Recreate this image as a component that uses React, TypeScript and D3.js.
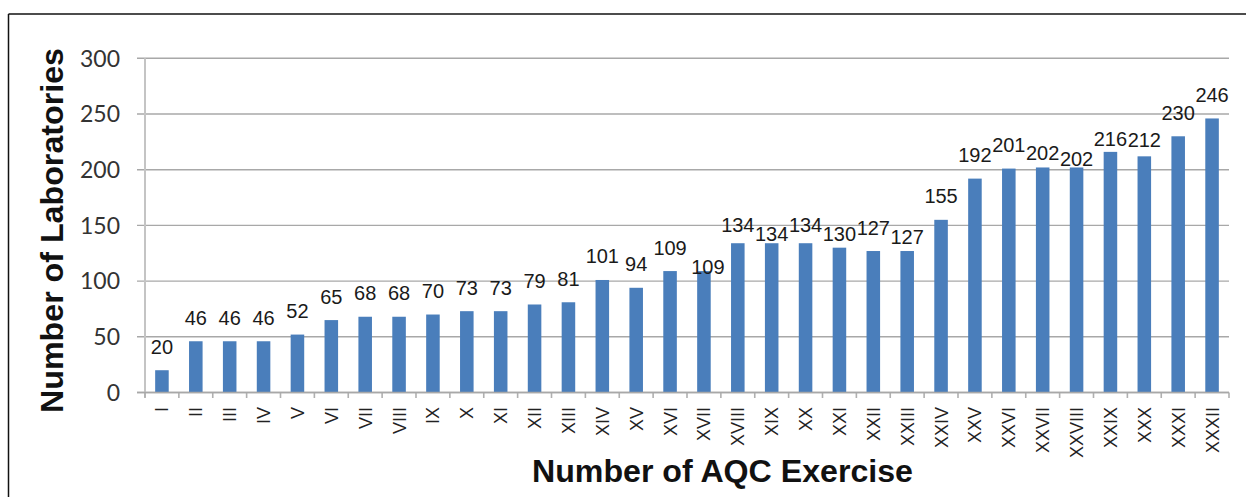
import React from "react";
import * as d3 from "d3";

const categories = ["I","II","III","IV","V","VI","VII","VIII","IX","X","XI","XII","XIII","XIV","XV","XVI","XVII","XVIII","XIX","XX","XXI","XXII","XXIII","XXIV","XXV","XXVI","XXVII","XXVIII","XXIX","XXX","XXXI","XXXII"];
const laboratories = [20,46,46,46,52,65,68,68,70,73,73,79,81,101,94,109,109,134,134,134,130,127,127,155,192,201,202,202,216,212,230,246];
const yTicks = [0,50,100,150,200,250,300];
const xTitle = "Number of AQC Exercise";
const yTitle = "Number of Laboratories";

// label placement nudges (px, downward) mimicking the original's overlap avoidance
const labelNudge: Record<number, number> = { 16: 19.5, 17: 5, 18: 14, 19: 5, 20: 9.5, 22: 9, 26: 9, 27: 15, 28: 10.5, 29: 7 };

export default function App() {
  const W = 1246, H = 497;
  const left = 145, right = 1229, top = 58.3, bottom = 392.5;
  const x = d3.scaleBand<string>().domain(categories).range([left, right]).paddingInner(0.6).paddingOuter(0.3);
  const y = d3.scaleLinear().domain([0, 300]).range([bottom, top]);
  const step = x.step();
  const boundaries = d3.range(categories.length + 1).map(i => left + i * step);
  const barColor = "#4a7ebb";
  const gridColor = "#a8a8a8";
  return (
    <svg width={W} height={H} style={{ position: "absolute", left: 0, top: 0, background: "#fff" }}>
      <rect x={0} y={0} width={W} height={H} fill="#fff" />
      {/* frame */}
      <line x1={8.5} y1={14} x2={W} y2={14} stroke="#111" strokeWidth={1.5} />
      <line x1={8.5} y1={14} x2={8.5} y2={H} stroke="#111" strokeWidth={1.5} />
      {/* gridlines */}
      {yTicks.map(t => (
        <line key={"g" + t} x1={137} x2={right} y1={y(t)} y2={y(t)} stroke={gridColor} strokeWidth={1.4} />
      ))}
      {/* y axis */}
      <line x1={left} x2={left} y1={top} y2={bottom + 5} stroke="#c4c4c4" strokeWidth={2} />
      {/* x axis ticks */}
      {boundaries.map((b, i) => (
        <line key={"t" + i} x1={b} x2={b} y1={bottom} y2={bottom + 5.5} stroke="#b0b0b0" strokeWidth={1.6} />
      ))}
      {/* bars */}
      {categories.map((c, i) => (
        <rect key={"b" + c} x={x(c)!} width={x.bandwidth()} y={y(laboratories[i])} height={y(0) - y(laboratories[i])} fill={barColor} />
      ))}
      {/* x axis line on top of bars */}
      <line x1={137} x2={right} y1={bottom} y2={bottom} stroke={gridColor} strokeWidth={1.6} />
      {/* value labels */}
      {categories.map((c, i) => (
        <text key={"v" + c} x={x(c)! + x.bandwidth() / 2 + (i === 16 ? 4 : 0)} y={y(laboratories[i]) - 16.5 + (labelNudge[i] || 0)}
          textAnchor="middle" fontFamily="'Liberation Sans', Arial, sans-serif" fontSize={20} fill="#1a1a1a">
          {laboratories[i]}
        </text>
      ))}
      {/* y tick labels */}
      {yTicks.map(t => (
        <text key={"yl" + t} x={120} y={y(t)} dy="0.36em" textAnchor="end" fontFamily="Lato, 'Open Sans', sans-serif" fontSize={23} fill="#333">
          {t}
        </text>
      ))}
      {/* x tick labels */}
      {categories.map(c => {
        const cx = x(c)! + x.bandwidth() / 2 + 6.5;
        return (
          <text key={"xl" + c} transform={`translate(${cx},407) rotate(-90)`} textAnchor="end"
            fontFamily="'Liberation Sans', Arial, sans-serif" fontSize={18} fill="#222">
            {c}
          </text>
        );
      })}
      {/* titles */}
      <text x={722.5} y={482} textAnchor="middle" fontFamily="'Liberation Sans', Arial, sans-serif" fontWeight="bold" fontSize={31} fill="#111"
        textLength={381} lengthAdjust="spacingAndGlyphs">{xTitle}</text>
      <text transform="translate(63,230.5) rotate(-90)" textAnchor="middle" fontFamily="'Liberation Sans', Arial, sans-serif" fontWeight="bold" fontSize={31} fill="#111"
        textLength={365} lengthAdjust="spacingAndGlyphs">{yTitle}</text>
    </svg>
  );
}
